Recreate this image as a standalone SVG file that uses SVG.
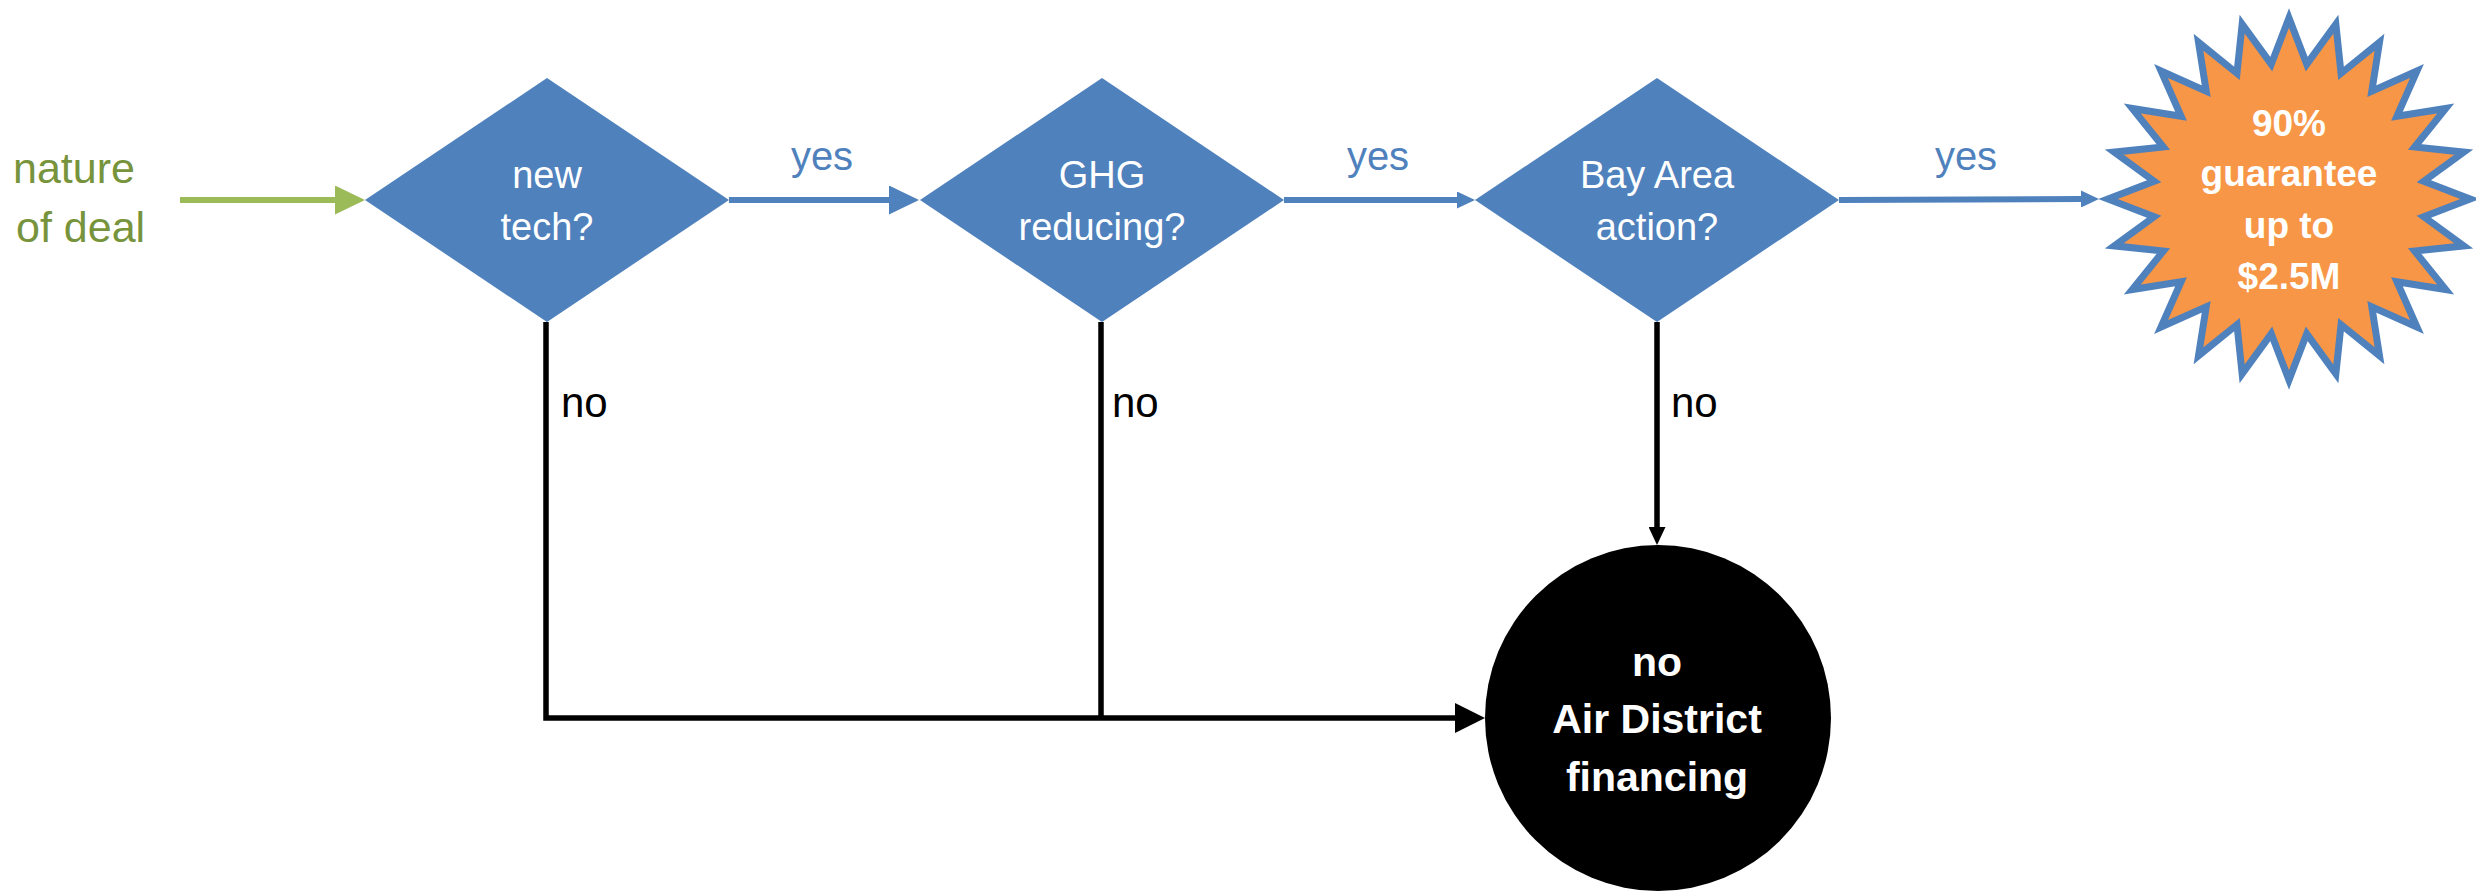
<svg xmlns="http://www.w3.org/2000/svg" width="2476" height="892" viewBox="0 0 2476 892">
<style>
  text { font-family: "Liberation Sans", Arial, sans-serif; }
  .dtxt { font-size: 38px; fill: #ffffff; text-anchor: middle; }
  .yes { font-size: 40px; fill: #4F81BD; text-anchor: middle; }
  .no { font-size: 42px; fill: #000000; }
  .src { font-size: 43px; fill: #77933C; }
  .btxt { font-weight: bold; fill: #ffffff; text-anchor: middle; }
  .diamond { fill: #4F81BD; }
  .blue { stroke: #4F81BD; stroke-width: 6; fill: none; }
  .black { stroke: #000000; stroke-width: 5.5; fill: none; }
  .green { stroke: #9BBB59; stroke-width: 6; fill: none; }
</style>
<defs>
  <marker id="aBlueL" markerUnits="userSpaceOnUse" markerWidth="30" markerHeight="29" refX="0" refY="14.5" orient="auto"><path d="M0,0 L30,14.5 L0,29 z" fill="#4F81BD"/></marker>
  <marker id="aBlueS" markerUnits="userSpaceOnUse" markerWidth="18" markerHeight="17" refX="0" refY="8.5" orient="auto"><path d="M0,0 L18,8.5 L0,17 z" fill="#4F81BD"/></marker>
  <marker id="aGreen" markerUnits="userSpaceOnUse" markerWidth="30" markerHeight="29" refX="0" refY="14.5" orient="auto"><path d="M0,0 L30,14.5 L0,29 z" fill="#9BBB59"/></marker>
  <marker id="aBlackS" markerUnits="userSpaceOnUse" markerWidth="18" markerHeight="17" refX="0" refY="8.5" orient="auto"><path d="M0,0 L18,8.5 L0,17 z" fill="#000000"/></marker>
  <marker id="aBlackL" markerUnits="userSpaceOnUse" markerWidth="30" markerHeight="30" refX="0" refY="15" orient="auto"><path d="M0,0 L30,15 L0,30 z" fill="#000000"/></marker>
</defs>

<g id="connectors">
  <line class="green" x1="180" y1="200" x2="335" y2="200" marker-end="url(#aGreen)"/>
  <line class="blue" x1="729" y1="200" x2="889" y2="200" marker-end="url(#aBlueL)"/>
  <line class="blue" x1="1284" y1="200" x2="1457" y2="200" marker-end="url(#aBlueS)"/>
  <line class="blue" x1="1839" y1="200" x2="2081" y2="199" marker-end="url(#aBlueS)"/>
  <line class="black" x1="1657" y1="322" x2="1657" y2="527" marker-end="url(#aBlackS)"/>
  <path class="black" d="M546,322 V718 H1455" marker-end="url(#aBlackL)"/>
  <line class="black" x1="1101" y1="322" x2="1101" y2="718"/>
  <text class="yes" x="822" y="170">yes</text>
  <text class="yes" x="1378" y="170">yes</text>
  <text class="yes" x="1966" y="170">yes</text>
  <text class="no" x="561" y="417">no</text>
  <text class="no" x="1112" y="417">no</text>
  <text class="no" x="1671" y="417">no</text>
</g>

<g id="start">
  <text class="src" x="13" y="183">nature</text>
  <text class="src" x="16" y="242">of deal</text>
</g>

<g id="newtech">
  <polygon class="diamond" points="547,78 729,200 547,322 365,200"/>
  <text class="dtxt" x="547" y="188">new</text>
  <text class="dtxt" x="547" y="240">tech?</text>
</g>

<g id="ghg">
  <polygon class="diamond" points="1102,78 1284,200 1102,322 920,200"/>
  <text class="dtxt" x="1102" y="188">GHG</text>
  <text class="dtxt" x="1102" y="240">reducing?</text>
</g>

<g id="bayarea">
  <polygon class="diamond" points="1657,78 1839,200 1657,322 1475,200"/>
  <text class="dtxt" x="1657" y="188">Bay Area</text>
  <text class="dtxt" x="1657" y="240">action?</text>
</g>

<g id="guarantee">
  <polygon fill="#F79646" stroke="#4F81BD" stroke-width="7" stroke-linejoin="miter" stroke-miterlimit="10" points="2289,18 2306.75,64.16 2335.85,24.17 2341.04,73.35 2379.5,42.25 2371.79,91.1 2416.99,71.01 2396.9,116.21 2445.75,108.5 2414.65,146.96 2463.83,152.15 2423.84,181.25 2470,199 2423.84,216.75 2463.83,245.85 2414.65,251.04 2445.75,289.5 2396.9,281.79 2416.99,326.99 2371.79,306.9 2379.5,355.75 2341.04,324.65 2335.85,373.83 2306.75,333.84 2289,380 2271.25,333.84 2242.15,373.83 2236.96,324.65 2198.5,355.75 2206.21,306.9 2161.01,326.99 2181.1,281.79 2132.25,289.5 2163.35,251.04 2114.17,245.85 2154.16,216.75 2108,199 2154.16,181.25 2114.17,152.15 2163.35,146.96 2132.25,108.5 2181.1,116.21 2161.01,71.01 2206.21,91.1 2198.5,42.25 2236.96,73.35 2242.15,24.17 2271.25,64.16"/>
  <text class="btxt" font-size="37" x="2289" y="136">90%</text>
  <text class="btxt" font-size="37" x="2289" y="186">guarantee</text>
  <text class="btxt" font-size="37" x="2289" y="238">up to</text>
  <text class="btxt" font-size="37" x="2289" y="289">$2.5M</text>
</g>

<g id="nofinancing">
  <circle cx="1658" cy="718" r="173" fill="#000000"/>
  <text class="btxt" font-size="41" x="1657" y="676">no</text>
  <text class="btxt" font-size="41" x="1657" y="733">Air District</text>
  <text class="btxt" font-size="41" x="1657" y="791">financing</text>
</g>
</svg>
